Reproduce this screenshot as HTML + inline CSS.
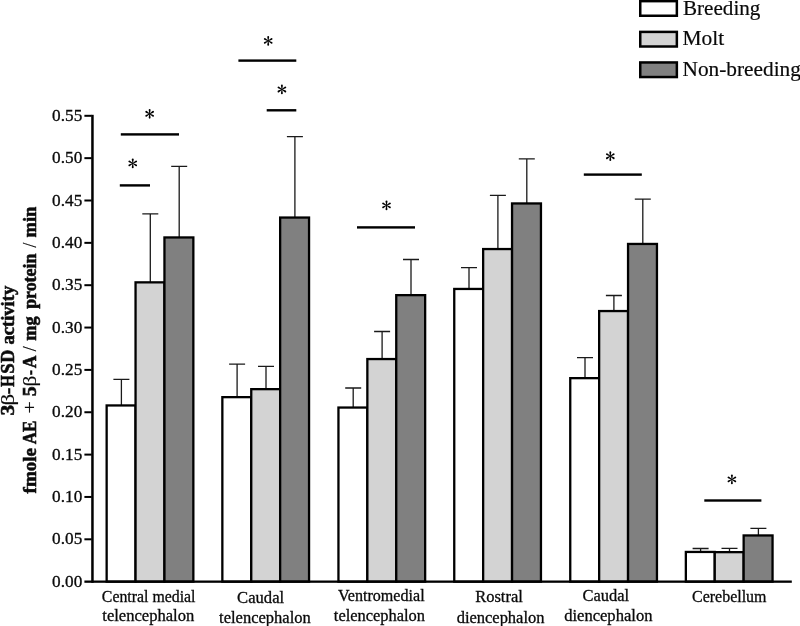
<!DOCTYPE html>
<html><head><meta charset="utf-8"><title>3&#946;-HSD activity</title>
<style>html,body{margin:0;padding:0;background:#fff;}body{width:800px;height:626px;overflow:hidden;}svg{display:block;will-change:transform;}text{font-family:"Liberation Serif", serif;fill:#0a0a0a;}</style>
</head><body>
<svg width="800" height="626" viewBox="0 0 800 626">
<rect x="0" y="0" width="800" height="626" fill="#ffffff"/>
<g id="legend" stroke="#0a0a0a" stroke-width="0.2">
<rect x="640.25" y="1.15" width="36.60" height="14.60" fill="#ffffff" stroke="#000" stroke-width="2.50"/>
<rect x="640.25" y="31.90" width="36.60" height="14.60" fill="#d3d3d3" stroke="#000" stroke-width="2.50"/>
<rect x="640.25" y="62.45" width="36.60" height="14.60" fill="#808080" stroke="#000" stroke-width="2.50"/>
<text x="682.99" y="14.70" font-size="20.50" textLength="77.41" lengthAdjust="spacingAndGlyphs">Breeding</text>
<text x="682.48" y="45.20" font-size="20.50" textLength="41.64" lengthAdjust="spacingAndGlyphs">Molt</text>
<text x="682.49" y="75.70" font-size="20.50" textLength="118.42" lengthAdjust="spacingAndGlyphs">Non-breeding</text>
</g>
<g id="bars">
<path d="M121.40 405.45V379.40M113.40 379.40H129.40" fill="none" stroke="#1a1a1a" stroke-width="1.30"/>
<rect x="106.65" y="405.45" width="28.90" height="176.20" fill="#ffffff" stroke="#000" stroke-width="2.30"/>
<path d="M150.30 282.35V213.90M142.30 213.90H158.30" fill="none" stroke="#1a1a1a" stroke-width="1.30"/>
<rect x="135.55" y="282.35" width="28.90" height="299.30" fill="#d3d3d3" stroke="#000" stroke-width="2.30"/>
<path d="M179.20 237.45V166.30M171.20 166.30H187.20" fill="none" stroke="#1a1a1a" stroke-width="1.30"/>
<rect x="164.45" y="237.45" width="28.90" height="344.20" fill="#808080" stroke="#000" stroke-width="2.30"/>
<path d="M237.10 397.15V364.20M229.10 364.20H245.10" fill="none" stroke="#1a1a1a" stroke-width="1.30"/>
<rect x="222.35" y="397.15" width="28.90" height="184.50" fill="#ffffff" stroke="#000" stroke-width="2.30"/>
<path d="M266.00 389.15V366.40M258.00 366.40H274.00" fill="none" stroke="#1a1a1a" stroke-width="1.30"/>
<rect x="251.25" y="389.15" width="28.90" height="192.50" fill="#d3d3d3" stroke="#000" stroke-width="2.30"/>
<path d="M294.90 217.55V136.60M286.90 136.60H302.90" fill="none" stroke="#1a1a1a" stroke-width="1.30"/>
<rect x="280.15" y="217.55" width="28.90" height="364.10" fill="#808080" stroke="#000" stroke-width="2.30"/>
<path d="M353.20 407.55V388.00M345.20 388.00H361.20" fill="none" stroke="#1a1a1a" stroke-width="1.30"/>
<rect x="338.45" y="407.55" width="28.90" height="174.10" fill="#ffffff" stroke="#000" stroke-width="2.30"/>
<path d="M382.10 359.05V331.50M374.10 331.50H390.10" fill="none" stroke="#1a1a1a" stroke-width="1.30"/>
<rect x="367.35" y="359.05" width="28.90" height="222.60" fill="#d3d3d3" stroke="#000" stroke-width="2.30"/>
<path d="M411.00 295.15V259.50M403.00 259.50H419.00" fill="none" stroke="#1a1a1a" stroke-width="1.30"/>
<rect x="396.25" y="295.15" width="28.90" height="286.50" fill="#808080" stroke="#000" stroke-width="2.30"/>
<path d="M469.00 288.95V267.60M461.00 267.60H477.00" fill="none" stroke="#1a1a1a" stroke-width="1.30"/>
<rect x="454.25" y="288.95" width="28.90" height="292.70" fill="#ffffff" stroke="#000" stroke-width="2.30"/>
<path d="M497.90 249.05V195.40M489.90 195.40H505.90" fill="none" stroke="#1a1a1a" stroke-width="1.30"/>
<rect x="483.15" y="249.05" width="28.90" height="332.60" fill="#d3d3d3" stroke="#000" stroke-width="2.30"/>
<path d="M526.80 203.45V158.90M518.80 158.90H534.80" fill="none" stroke="#1a1a1a" stroke-width="1.30"/>
<rect x="512.05" y="203.45" width="28.90" height="378.20" fill="#808080" stroke="#000" stroke-width="2.30"/>
<path d="M585.00 378.15V357.60M577.00 357.60H593.00" fill="none" stroke="#1a1a1a" stroke-width="1.30"/>
<rect x="570.25" y="378.15" width="28.90" height="203.50" fill="#ffffff" stroke="#000" stroke-width="2.30"/>
<path d="M613.90 311.05V295.50M605.90 295.50H621.90" fill="none" stroke="#1a1a1a" stroke-width="1.30"/>
<rect x="599.15" y="311.05" width="28.90" height="270.60" fill="#d3d3d3" stroke="#000" stroke-width="2.30"/>
<path d="M642.80 243.95V199.10M634.80 199.10H650.80" fill="none" stroke="#1a1a1a" stroke-width="1.30"/>
<rect x="628.05" y="243.95" width="28.90" height="337.70" fill="#808080" stroke="#000" stroke-width="2.30"/>
<path d="M700.60 551.95V548.50M692.60 548.50H708.60" fill="none" stroke="#1a1a1a" stroke-width="1.30"/>
<rect x="685.85" y="551.95" width="28.90" height="29.70" fill="#ffffff" stroke="#000" stroke-width="2.30"/>
<path d="M729.50 552.15V548.40M721.50 548.40H737.50" fill="none" stroke="#1a1a1a" stroke-width="1.30"/>
<rect x="714.75" y="552.15" width="28.90" height="29.50" fill="#d3d3d3" stroke="#000" stroke-width="2.30"/>
<path d="M758.40 535.45V528.30M750.40 528.30H766.40" fill="none" stroke="#1a1a1a" stroke-width="1.30"/>
<rect x="743.65" y="535.45" width="28.90" height="46.20" fill="#808080" stroke="#000" stroke-width="2.30"/>
</g>
<g id="axes" fill="#000">
<rect x="91.20" y="114.80" width="2.50" height="468.00"/>
<rect x="84.40" y="580.50" width="707.40" height="2.30"/>
<rect x="84.40" y="538.30" width="7.30" height="2.00"/>
<rect x="84.40" y="495.95" width="7.30" height="2.00"/>
<rect x="84.40" y="453.60" width="7.30" height="2.00"/>
<rect x="84.40" y="411.25" width="7.30" height="2.00"/>
<rect x="84.40" y="368.90" width="7.30" height="2.00"/>
<rect x="84.40" y="326.55" width="7.30" height="2.00"/>
<rect x="84.40" y="284.20" width="7.30" height="2.00"/>
<rect x="84.40" y="241.85" width="7.30" height="2.00"/>
<rect x="84.40" y="199.50" width="7.30" height="2.00"/>
<rect x="84.40" y="157.15" width="7.30" height="2.00"/>
<rect x="84.40" y="114.80" width="7.30" height="2.00"/>
</g>
<g id="ticklabels" stroke="#0a0a0a" stroke-width="0.3">
<text x="52.14" y="586.75" font-size="16" textLength="30.11" lengthAdjust="spacingAndGlyphs">0.00</text>
<text x="52.14" y="544.40" font-size="16" textLength="30.13" lengthAdjust="spacingAndGlyphs">0.05</text>
<text x="52.14" y="502.05" font-size="16" textLength="30.11" lengthAdjust="spacingAndGlyphs">0.10</text>
<text x="52.14" y="459.70" font-size="16" textLength="30.13" lengthAdjust="spacingAndGlyphs">0.15</text>
<text x="52.14" y="417.35" font-size="16" textLength="30.11" lengthAdjust="spacingAndGlyphs">0.20</text>
<text x="52.14" y="375.00" font-size="16" textLength="30.13" lengthAdjust="spacingAndGlyphs">0.25</text>
<text x="52.14" y="332.65" font-size="16" textLength="30.11" lengthAdjust="spacingAndGlyphs">0.30</text>
<text x="52.14" y="290.30" font-size="16" textLength="30.13" lengthAdjust="spacingAndGlyphs">0.35</text>
<text x="52.14" y="247.95" font-size="16" textLength="30.11" lengthAdjust="spacingAndGlyphs">0.40</text>
<text x="52.14" y="205.60" font-size="16" textLength="30.13" lengthAdjust="spacingAndGlyphs">0.45</text>
<text x="52.14" y="163.25" font-size="16" textLength="30.11" lengthAdjust="spacingAndGlyphs">0.50</text>
<text x="52.14" y="120.90" font-size="16" textLength="30.13" lengthAdjust="spacingAndGlyphs">0.55</text>
</g>
<g id="sig">
<rect x="120.80" y="133.20" width="58.20" height="2.40" fill="#000"/>
<rect x="119.80" y="184.20" width="30.20" height="2.40" fill="#000"/>
<rect x="238.40" y="59.40" width="57.90" height="2.40" fill="#000"/>
<rect x="266.70" y="109.10" width="29.60" height="2.40" fill="#000"/>
<rect x="357.00" y="226.20" width="58.00" height="2.40" fill="#000"/>
<rect x="583.80" y="173.40" width="58.00" height="2.40" fill="#000"/>
<rect x="704.30" y="499.30" width="57.10" height="2.40" fill="#000"/>
<defs><path id="arm" d="M-0.28 0.2L-0.94 -3.8Q-0.97 -4.88 0 -4.88Q0.97 -4.88 0.94 -3.8L0.28 0.2Z"/><g id="star"><use href="#arm" transform="rotate(0)"/><use href="#arm" transform="rotate(60)"/><use href="#arm" transform="rotate(120)"/><use href="#arm" transform="rotate(180)"/><use href="#arm" transform="rotate(240)"/><use href="#arm" transform="rotate(300)"/></g></defs>
<use href="#star" x="149.65" y="113.80" fill="#000"/>
<use href="#star" x="132.75" y="163.40" fill="#000"/>
<use href="#star" x="268.20" y="40.90" fill="#000"/>
<use href="#star" x="281.90" y="89.45" fill="#000"/>
<use href="#star" x="386.50" y="205.40" fill="#000"/>
<use href="#star" x="610.30" y="156.20" fill="#000"/>
<use href="#star" x="731.90" y="479.40" fill="#000"/>
</g>
<g id="xlabels" stroke="#0a0a0a" stroke-width="0.3">
<text x="101.85" y="601.50" font-size="16" textLength="93.67" lengthAdjust="spacingAndGlyphs">Central medial</text>
<text x="102.34" y="621.30" font-size="16" textLength="91.91" lengthAdjust="spacingAndGlyphs">telencephalon</text>
<text x="237.07" y="602.50" font-size="16" textLength="47.06" lengthAdjust="spacingAndGlyphs">Caudal</text>
<text x="219.14" y="622.50" font-size="16" textLength="91.61" lengthAdjust="spacingAndGlyphs">telencephalon</text>
<text x="338.02" y="601.20" font-size="16" textLength="86.59" lengthAdjust="spacingAndGlyphs">Ventromedial</text>
<text x="333.84" y="621.30" font-size="16" textLength="91.16" lengthAdjust="spacingAndGlyphs">telencephalon</text>
<text x="475.23" y="602.25" font-size="16" textLength="47.60" lengthAdjust="spacingAndGlyphs">Rostral</text>
<text x="456.65" y="622.50" font-size="16" textLength="87.84" lengthAdjust="spacingAndGlyphs">diencephalon</text>
<text x="582.53" y="601.00" font-size="16" textLength="46.60" lengthAdjust="spacingAndGlyphs">Caudal</text>
<text x="564.15" y="621.30" font-size="16" textLength="88.30" lengthAdjust="spacingAndGlyphs">diencephalon</text>
<text x="692.10" y="602.25" font-size="16" textLength="74.40" lengthAdjust="spacingAndGlyphs">Cerebellum</text>
</g>
<g id="ytitle" stroke="#111">
<text transform="translate(13.50 415.61) rotate(-90)" font-size="18.00" font-weight="bold" stroke-width="0.60" textLength="10.74" lengthAdjust="spacingAndGlyphs">3</text>
<text transform="translate(13.50 405.48) rotate(-90)" font-size="18.00" font-weight="normal" stroke-width="0.15" textLength="11.65" lengthAdjust="spacingAndGlyphs">&#946;</text>
<text transform="translate(13.50 394.06) rotate(-90)" font-size="18.00" font-weight="bold" stroke-width="0.60" textLength="6.03" lengthAdjust="spacingAndGlyphs">-</text>
<text transform="translate(13.50 386.65) rotate(-90)" font-size="18.00" font-weight="bold" stroke-width="0.60" textLength="11.50" lengthAdjust="spacingAndGlyphs">H</text>
<text transform="translate(13.50 373.79) rotate(-90)" font-size="18.00" font-weight="bold" stroke-width="0.60" textLength="10.39" lengthAdjust="spacingAndGlyphs">S</text>
<text transform="translate(13.50 362.72) rotate(-90)" font-size="18.00" font-weight="bold" stroke-width="0.60" textLength="12.99" lengthAdjust="spacingAndGlyphs">D</text>
<text transform="translate(13.50 344.40) rotate(-90)" font-size="18.00" font-weight="bold" stroke-width="0.60" textLength="58.58" lengthAdjust="spacingAndGlyphs">activity</text>
<text transform="translate(36.20 493.44) rotate(-90)" font-size="19.20" font-weight="bold" stroke-width="0.60" textLength="45.33" lengthAdjust="spacingAndGlyphs">fmole</text>
<text transform="translate(36.20 444.27) rotate(-90)" font-size="19.20" font-weight="bold" stroke-width="0.60" textLength="23.74" lengthAdjust="spacingAndGlyphs">AE</text>
<text transform="translate(36.20 413.39) rotate(-90)" font-size="19.20" font-weight="normal" stroke-width="0.15" textLength="12.36" lengthAdjust="spacingAndGlyphs">+</text>
<text transform="translate(36.20 396.29) rotate(-90)" font-size="19.20" font-weight="bold" stroke-width="0.60" textLength="9.80" lengthAdjust="spacingAndGlyphs">5</text>
<text transform="translate(36.20 386.38) rotate(-90)" font-size="19.20" font-weight="normal" stroke-width="0.15" textLength="10.89" lengthAdjust="spacingAndGlyphs">&#946;</text>
<text transform="translate(36.20 375.04) rotate(-90)" font-size="19.20" font-weight="bold" stroke-width="0.60" textLength="4.87" lengthAdjust="spacingAndGlyphs">-</text>
<text transform="translate(36.20 368.27) rotate(-90)" font-size="19.20" font-weight="bold" stroke-width="0.60" textLength="12.70" lengthAdjust="spacingAndGlyphs">A</text>
<text transform="translate(36.20 351.50) rotate(-90)" font-size="19.20" font-weight="normal" stroke-width="0.15" textLength="5.20" lengthAdjust="spacingAndGlyphs">/</text>
<text transform="translate(36.20 340.79) rotate(-90)" font-size="19.20" font-weight="bold" stroke-width="0.60" textLength="24.27" lengthAdjust="spacingAndGlyphs">mg</text>
<text transform="translate(36.20 308.83) rotate(-90)" font-size="19.20" font-weight="bold" stroke-width="0.60" textLength="55.19" lengthAdjust="spacingAndGlyphs">protein</text>
<text transform="translate(36.20 247.80) rotate(-90)" font-size="19.20" font-weight="normal" stroke-width="0.15" textLength="5.10" lengthAdjust="spacingAndGlyphs">/</text>
<text transform="translate(36.20 237.40) rotate(-90)" font-size="19.20" font-weight="bold" stroke-width="0.60" textLength="30.78" lengthAdjust="spacingAndGlyphs">min</text>
</g>
</svg>
</body></html>
